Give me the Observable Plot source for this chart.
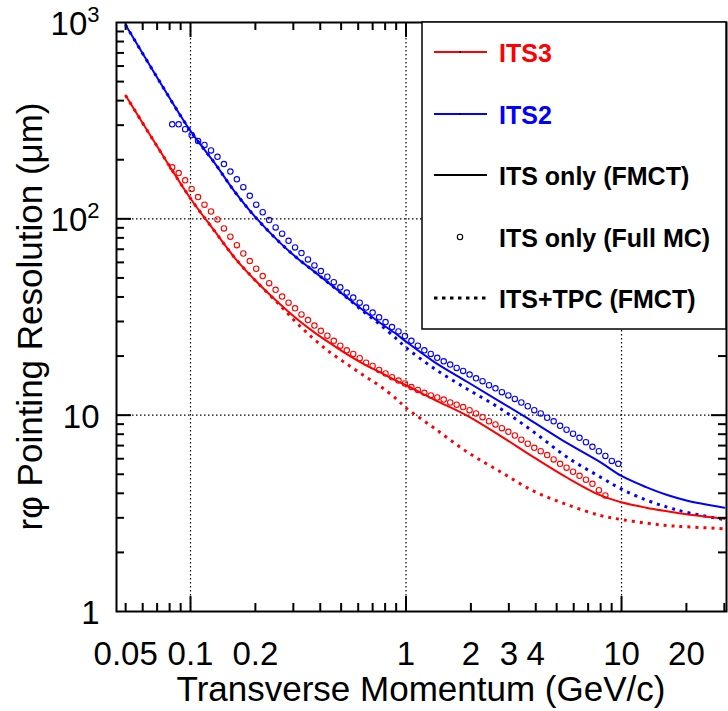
<!DOCTYPE html>
<html>
<head>
<meta charset="utf-8">
<script src="https://cdn.jsdelivr.net/npm/d3@7"></script>
<script src="https://cdn.jsdelivr.net/npm/@observablehq/plot@0.6"></script>
<style>
  body { margin: 0; background: #fff; }
  #chart svg { display: block; }
</style>
</head>
<body>
<div id="chart"></div>
<script>
// ---------- data ----------
// FMCT curves: transverse momentum (GeV/c)
const fmctPt = [0.05, 0.07, 0.1, 0.13, 0.16, 0.2, 0.262, 0.313, 0.374, 0.446, 0.533, 0.637, 0.762, 0.91, 1.0, 1.35, 1.92, 2.74, 3.92, 5.6, 8.0, 10, 13, 16.3, 20, 30];
// pointing resolution (um)
const its2Only = [970, 525, 280, 191, 138, 102, 75, 63, 54, 46.3, 39.7, 34.0, 29.4, 25.7, 23.7, 18.7, 14.8, 11.7, 9.2, 7.2, 5.75, 4.9, 4.3, 3.92, 3.68, 3.38];
const its2Tpc  = [970, 525, 280, 191, 138, 102, 75, 63, 54, 46.3, 39.6, 33.6, 28.8, 24.3, 22.1, 17.3, 13.6, 10.8, 8.2, 6.1, 4.83, 4.2, 3.7, 3.4, 3.2, 2.94];
const its3Only = [425, 234, 127, 86, 63.5, 48.5, 36.5, 30.8, 26.5, 23.2, 20.4, 18.2, 16.5, 14.9, 14.2, 12.0, 9.95, 7.85, 6.1, 4.8, 3.9, 3.6, 3.38, 3.24, 3.13, 2.97];
const its3Tpc  = [425, 234, 127, 86, 63.5, 48.5, 36.0, 29.3, 24.4, 20.8, 18.2, 15.9, 14.0, 12.0, 10.9, 8.6, 6.5, 5.15, 4.1, 3.5, 3.08, 2.94, 2.82, 2.74, 2.7, 2.64];

// Full MC points: bin centres (GeV/c)
const mcPt = [0.08222, 0.0881, 0.09441, 0.1012, 0.1084, 0.1161, 0.1245, 0.1334, 0.1429, 0.1531,
  0.1641, 0.1758, 0.1884, 0.2018, 0.2163, 0.2317, 0.2483, 0.2661, 0.2851, 0.3055,
  0.3273, 0.3508, 0.3758, 0.4027, 0.4315, 0.4624, 0.4955, 0.5309, 0.5689, 0.6095,
  0.6531, 0.6998, 0.7499, 0.8035, 0.861, 0.9226, 0.9886, 1.059, 1.135, 1.216,
  1.303, 1.396, 1.496, 1.603, 1.718, 1.841, 1.972, 2.113, 2.265, 2.427,
  2.6, 2.786, 2.985, 3.199, 3.428, 3.673, 3.936, 4.217, 4.519, 4.842,
  5.188, 5.559, 5.957, 6.383, 6.839, 7.328, 7.852, 8.414, 9.016, 9.661];
const its2Mc = [303, 303, 286, 267, 249, 238, 223, 207, 190, 174,
  159, 145, 131, 118, 108, 98.5, 90.4, 84, 77.3, 71.5,
  66.9, 62.1, 57.9, 54.2, 50.7, 47.6, 44.8, 42.1, 39.7, 37.4,
  35.3, 33.3, 31.5, 29.8, 28.1, 26.7, 25.3, 23.9, 22.6, 21.4,
  20.5, 19.6, 18.8, 18.1, 17.4, 16.8, 16.1, 15.4, 14.9, 14.2,
  13.7, 13.1, 12.6, 12.1, 11.6, 11.1, 10.6, 10.2, 9.7, 9.3,
  8.83, 8.43, 8.04, 7.67, 7.28, 6.9, 6.55, 6.2, 5.85, 5.65];
const its3Mc = [183, 171, 157, 142, 129, 118, 109, 99.3, 89.4, 81.1,
  73.4, 66.6, 60.9, 55.7, 51.1, 47.0, 43.5, 40.2, 37.4, 35.0,
  32.6, 30.5, 28.6, 26.9, 25.4, 23.9, 22.6, 21.4, 20.5, 19.5,
  18.5, 17.8, 17.0, 16.3, 15.6, 15.0, 14.5, 13.9, 13.45, 13.0,
  12.6, 12.3, 12.0, 11.6, 11.3, 11.0, 10.6, 10.2, 9.77, 9.31,
  8.97, 8.59, 8.23, 7.88, 7.5, 7.15, 6.82, 6.55, 6.26, 5.95,
  5.65, 5.4, 5.15, 4.91, 4.69, 4.47, 4.15, 3.9];

// axes
const xLabelTicks = [0.05, 0.1, 0.2, 1, 2, 3, 4, 10, 20];
const xLabelText  = ["0.05", "0.1", "0.2", "1", "2", "3", "4", "10", "20"];
const xMajor = [0.1, 1, 10];
const xMinor = [0.05, 0.06, 0.07, 0.08, 0.09, 0.2, 0.3, 0.4, 0.5, 0.6, 0.7, 0.8, 0.9, 2, 3, 4, 5, 6, 7, 8, 9, 20, 30];
const yLabelTicks = [1, 10, 100, 1000];
const yLabelText  = ["1", "10", "10^2", "10^3"];
const yMajor = [10, 100];
const yMinor = [2, 3, 4, 5, 6, 7, 8, 9, 20, 30, 40, 50, 60, 70, 80, 90, 200, 300, 400, 500, 600, 700, 800, 900];
const gridX = [0.1, 1, 10];
const gridY = [10, 100];

const legendItems = [
  {label: "ITS3", color: "#ff0000", kind: "line"},
  {label: "ITS2", color: "#0000ff", kind: "line"},
  {label: "ITS only (FMCT)", color: "#000000", kind: "line"},
  {label: "ITS only (Full MC)", color: "#000000", kind: "circle"},
  {label: "ITS+TPC (FMCT)", color: "#000000", kind: "dotted"}
];

// ---------- build ----------
const RED = "#ff0000", BLUE = "#0000ff";
const FONT = "'Liberation Sans', Arial, Helvetica, sans-serif";
const rec = (xs, ys) => ys.map((y, i) => ({x: xs[i], y}));

const W = 728, H = 711;
const mL = 116, mR = 2, mT = 22, mB = 100;
const pw = W - mL - mR, ph = H - mT - mB;
const minorLen = 8, majorLen = 15;

const tickStyle = {stroke: "black", strokeWidth: 2};
const dotted = {strokeWidth: 3, strokeDasharray: "3,5", strokeLinecap: "butt", curve: "catmull-rom"};
const solid = {strokeWidth: 2, curve: "catmull-rom"};

const chart = Plot.plot({
  width: W, height: H,
  marginLeft: mL, marginRight: mR, marginTop: mT, marginBottom: mB,
  style: {fontFamily: FONT, background: "white", color: "black"},
  x: {type: "log", domain: [0.04535, 30.7], label: null, axis: null},
  y: {type: "log", domain: [1, 1000], label: null, axis: null},
  marks: [
    Plot.ruleX(gridX, {x: d => d, stroke: "black", strokeWidth: 1.2, strokeDasharray: "1.5,2.5"}),
    Plot.ruleY(gridY, {y: d => d, stroke: "black", strokeWidth: 1.2, strokeDasharray: "1.5,2.5"}),

    Plot.line(rec(fmctPt, its2Tpc), {x: "x", y: "y", stroke: BLUE, ...dotted}),
    Plot.line(rec(fmctPt, its3Tpc), {x: "x", y: "y", stroke: RED, ...dotted}),
    Plot.line(rec(fmctPt, its2Only), {x: "x", y: "y", stroke: BLUE, ...solid}),
    Plot.line(rec(fmctPt, its3Only), {x: "x", y: "y", stroke: RED, ...solid}),

    Plot.dot(rec(mcPt, its2Mc), {x: "x", y: "y", r: 2.7, stroke: BLUE, strokeWidth: 1.1, fill: "none"}),
    Plot.dot(rec(mcPt, its3Mc), {x: "x", y: "y", r: 2.7, stroke: RED, strokeWidth: 1.1, fill: "none"}),

    // inward ticks on all four sides
    Plot.tickX(xMinor, {x: d => d, insetTop: ph - minorLen, ...tickStyle}),
    Plot.tickX(xMajor, {x: d => d, insetTop: ph - majorLen, ...tickStyle}),
    Plot.tickX(xMinor, {x: d => d, insetBottom: ph - minorLen, ...tickStyle}),
    Plot.tickX(xMajor, {x: d => d, insetBottom: ph - majorLen, ...tickStyle}),
    Plot.tickY(yMinor, {y: d => d, insetRight: pw - minorLen, ...tickStyle}),
    Plot.tickY(yMajor, {y: d => d, insetRight: pw - majorLen, ...tickStyle}),
    Plot.tickY(yMinor, {y: d => d, insetLeft: pw - minorLen, ...tickStyle}),
    Plot.tickY(yMajor, {y: d => d, insetLeft: pw - majorLen, ...tickStyle}),

    Plot.frame({stroke: "black", strokeWidth: 2}),

    // tick labels
    Plot.text(xLabelTicks, {x: d => d, text: (d, i) => xLabelText[i], frameAnchor: "bottom",
      lineAnchor: "top", dy: 30, fontSize: 33, fill: "black"}),
    Plot.text(yLabelTicks, {y: d => d, text: (d, i) => yLabelText[i], frameAnchor: "left",
      textAnchor: "end", dx: -17, dy: 2, fontSize: 33, fill: "black"})
  ]
});
document.getElementById("chart").appendChild(chart);

const svgNode = chart.tagName.toLowerCase() === "svg" ? chart : chart.querySelector("svg");
const svg = d3.select(svgNode);

// superscripts on y labels (10^2 -> 10 with raised 2)
svg.selectAll("text").each(function () {
  const t = this.textContent;
  if (t.includes("^")) {
    const [base, exp] = t.split("^");
    const el = d3.select(this);
    el.selectAll("*").remove();
    el.text(null);
    el.append("tspan").text(base);
    el.append("tspan").attr("dy", -13).attr("font-size", 22).text(exp);
  }
});

// axis titles
svg.append("text")
  .attr("x", (mL + W - mR) / 2).attr("y", 701)
  .attr("text-anchor", "middle").attr("font-family", FONT).attr("font-size", 35).attr("fill", "black")
  .text("Transverse Momentum (GeV/c)");
svg.append("text")
  .attr("transform", `translate(42,${(mT + H - mB) / 2}) rotate(-90)`)
  .attr("text-anchor", "middle").attr("font-family", FONT).attr("font-size", 35).attr("fill", "black")
  .text("rφ Pointing Resolution (μm)");

// legend
const lg = svg.append("g");
lg.append("rect").attr("x", 422).attr("y", mT).attr("width", W - mR - 422).attr("height", 329 - mT)
  .attr("fill", "white").attr("stroke", "black").attr("stroke-width", 1.5);
const rowY = [52, 114, 175, 237, 298];
legendItems.forEach((it, i) => {
  const y = rowY[i];
  if (it.kind === "line") {
    lg.append("line").attr("x1", 434).attr("x2", 487).attr("y1", y).attr("y2", y)
      .attr("stroke", it.color).attr("stroke-width", 2);
    lg.append("rect").attr("x", 459.5).attr("y", y - 0.75).attr("width", 1.5).attr("height", 1.5).attr("fill", "black");
  } else if (it.kind === "circle") {
    lg.append("circle").attr("cx", 460).attr("cy", y).attr("r", 2.7)
      .attr("fill", "none").attr("stroke", it.color).attr("stroke-width", 1.1);
  } else {
    lg.append("line").attr("x1", 434).attr("x2", 487).attr("y1", y).attr("y2", y)
      .attr("stroke", it.color).attr("stroke-width", 3).attr("stroke-dasharray", "3.5,4.5");
  }
  lg.append("text").attr("x", 499).attr("y", y + 10).attr("text-anchor", "start")
    .attr("font-family", FONT).attr("font-weight", "bold").attr("font-size", 25)
    .attr("fill", it.color).text(it.label);
});
</script>
</body>
</html>
